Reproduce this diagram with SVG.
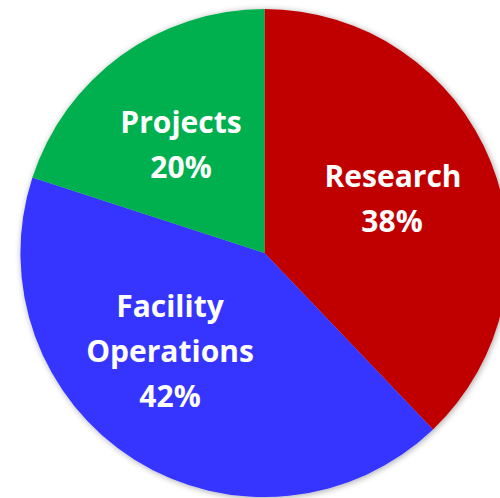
<svg xmlns="http://www.w3.org/2000/svg" width="500" height="498" viewBox="0 0 500 498">
<defs>
<filter id="sh" x="-10%" y="-10%" width="120%" height="120%">
<feDropShadow dx="1" dy="1" stdDeviation="3" flood-color="#000" flood-opacity="0.35"/>
</filter>
</defs>
<style>
text{font-family:"Open Sans","Noto Sans","Liberation Sans",sans-serif;font-weight:bold;font-size:30px;fill:#fff;text-anchor:middle}
</style>
<rect width="500" height="498" fill="#fff"/>
<g id="pie" filter="url(#sh)">
<g id="research"><path d="M264.5,253 L264.5,9 A244,244 0 0 1 433,429.5 Z" fill="#C00000"/></g>
<g id="facility"><path d="M264.5,253 L433,429.5 A244,244 0 0 1 32.4,177.6 Z" fill="#3535FF"/></g>
<g id="projects"><path d="M264.5,253 L32.4,177.6 A244,244 0 0 1 264.5,9 Z" fill="#00B050"/></g>
</g>
<g id="labels">
<text x="181" y="133">Projects</text>
<text x="181" y="178">20%</text>
<text x="393" y="187">Research</text>
<text x="392" y="232">38%</text>
<text x="170" y="317">Facility</text>
<text x="170" y="362">Operations</text>
<text x="170" y="407">42%</text>
</g>
</svg>
